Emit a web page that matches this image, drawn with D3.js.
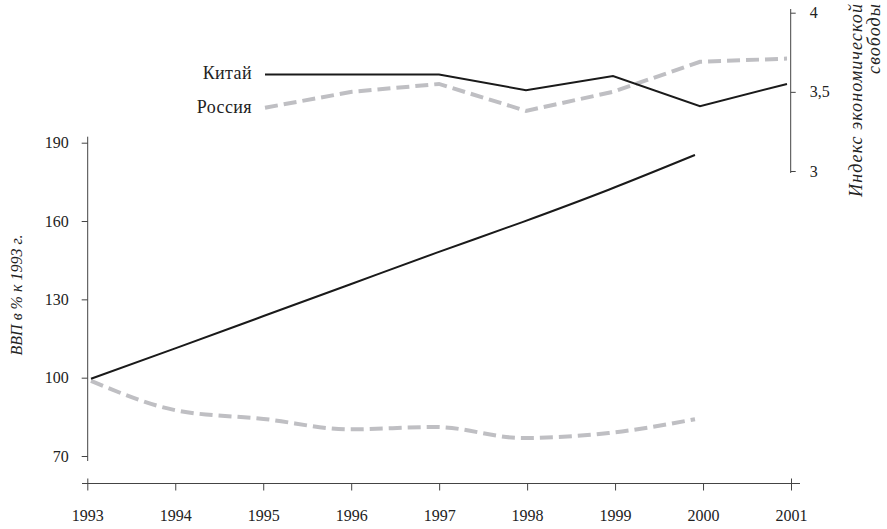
<!DOCTYPE html>
<html>
<head>
<meta charset="utf-8">
<script src="https://cdn.jsdelivr.net/npm/d3@7"></script>
<style>
  body { margin: 0; background: #fff; }
  text { font-family: "Liberation Serif", "DejaVu Serif", serif; fill: #222; }
</style>
</head>
<body>
<script>
var width = 887,
    height = 529;

// axis ticks
var years = [1993, 1994, 1995, 1996, 1997, 1998, 1999, 2000, 2001];
var gdpTicks = [70, 100, 130, 160, 190];
var freeTicks = [3, 3.5, 4];

// GDP, % of 1993
var gdpYears = [1993, 1994, 1995, 1996, 1997, 1998, 1999, 2000];
var gdpChina = [99.6, 111.5, 123.6, 135.7, 147.8, 159.6, 172, 185.3];
var gdpRussia = [98.8, 87.4, 84.2, 80.2, 81.1, 76.9, 78.8, 84.1];

// economic freedom index
var freeYears = [1995, 1996, 1997, 1998, 1999, 2000, 2001];
var freeChina = [3.61, 3.61, 3.61, 3.51, 3.60, 3.41, 3.55];
var freeRussia = [3.40, 3.50, 3.55, 3.38, 3.50, 3.69, 3.71];

var black = "#1a1a1a",
    grey = "#bfbfc3",
    axisColor = "#444";

var svg = d3.select("body")
            .append("svg")
            .attr("width", width)
            .attr("height", height);

// scales
var xAxisScale = d3.scaleLinear().domain([1993, 2001]).range([87.3, 791]);
var xTop = d3.scaleLinear().domain([1993, 2001]).range([91, 787]);
var xGdp = d3.scaleLinear().domain([1993, 2000]).range([91, 695]);
var yGdp = d3.scaleLinear().domain([70, 190]).range([456, 142.7]);
var yFree = d3.scaleLinear().domain([3, 4]).range([171, 12.7]);

// bottom axis
var gx = svg.append("g")
  .attr("transform", "translate(0,483.5)")
  .call(d3.axisBottom(xAxisScale).tickValues(years).tickSize(7).tickPadding(19)
          .tickFormat(function(d) { return d; }));
gx.select(".domain").remove();
gx.append("line")
  .attr("x1", 82).attr("x2", 800)
  .attr("stroke", axisColor);
gx.selectAll(".tick line").attr("stroke", axisColor);
gx.selectAll(".tick").filter(function(d) { return d === 1993 || d === 2001; })
  .select("line").attr("y1", -5);
gx.selectAll(".tick text")
  .attr("font-size", "16px")
  .attr("fill", "#222");

// left axis
var gy = svg.append("g")
  .attr("transform", "translate(87.7,0)")
  .call(d3.axisLeft(yGdp).tickValues(gdpTicks).tickSize(6).tickPadding(13));
gy.select(".domain").remove();
gy.append("line")
  .attr("y1", yGdp.range()[1] - 6).attr("y2", yGdp.range()[0] + 5)
  .attr("stroke", axisColor);
gy.selectAll(".tick line").attr("stroke", axisColor);
gy.selectAll(".tick text")
  .attr("font-size", "16px")
  .attr("fill", "#222");

svg.append("text")
  .attr("transform", "translate(22,295) rotate(-90)")
  .attr("text-anchor", "middle")
  .attr("font-size", "16px")
  .attr("font-style", "italic")
  .text("ВВП в % к 1993 г.");

// right axis
var gr = svg.append("g")
  .attr("transform", "translate(790.7,0)")
  .call(d3.axisRight(yFree).tickValues(freeTicks).tickSize(5).tickPadding(14)
          .tickFormat(function(d) { return d === 3.5 ? "3,5" : d; }));
gr.select(".domain").remove();
gr.append("line")
  .attr("y1", 9).attr("y2", 173)
  .attr("stroke", axisColor);
gr.selectAll(".tick line").attr("stroke", axisColor);
gr.selectAll(".tick text")
  .attr("font-size", "16px")
  .attr("fill", "#222");

var rTitle = svg.append("text")
  .attr("transform", "translate(862,3) rotate(-90)")
  .attr("text-anchor", "end")
  .attr("font-size", "18px")
  .attr("letter-spacing", "1.1px")
  .attr("font-style", "italic");
rTitle.append("tspan").attr("x", 0).attr("y", 0).text("Индекс экономической");
rTitle.append("tspan").attr("x", 0).attr("y", 18).text("свободы");

// lines
var gdpLine = function(vals) {
  return d3.line()
    .x(function(d, i) { return xGdp(gdpYears[i]); })
    .y(function(d) { return yGdp(d); })
    .curve(d3.curveMonotoneX)(vals);
};
var freeLine = function(vals) {
  return d3.line()
    .x(function(d, i) { return xTop(freeYears[i]); })
    .y(function(d) { return yFree(d); })(vals);
};

svg.append("path")
  .attr("d", gdpLine(gdpRussia))
  .attr("fill", "none")
  .attr("stroke", grey)
  .attr("stroke-width", 4)
  .attr("stroke-dasharray", "13,6");

svg.append("path")
  .attr("d", gdpLine(gdpChina))
  .attr("fill", "none")
  .attr("stroke", black)
  .attr("stroke-width", 2);

svg.append("path")
  .attr("d", freeLine(freeRussia))
  .attr("fill", "none")
  .attr("stroke", grey)
  .attr("stroke-width", 4)
  .attr("stroke-dasharray", "13,6");

svg.append("path")
  .attr("d", freeLine(freeChina))
  .attr("fill", "none")
  .attr("stroke", black)
  .attr("stroke-width", 2);

// series labels
svg.append("text")
  .attr("x", 252)
  .attr("y", yFree(freeChina[0]) + 5)
  .attr("text-anchor", "end")
  .attr("font-size", "18px")
  .attr("letter-spacing", "0.4px")
  .text("Китай");

svg.append("text")
  .attr("x", 252)
  .attr("y", yFree(freeRussia[0]) + 5)
  .attr("text-anchor", "end")
  .attr("font-size", "18px")
  .attr("letter-spacing", "0.4px")
  .text("Россия");
</script>
</body>
</html>
